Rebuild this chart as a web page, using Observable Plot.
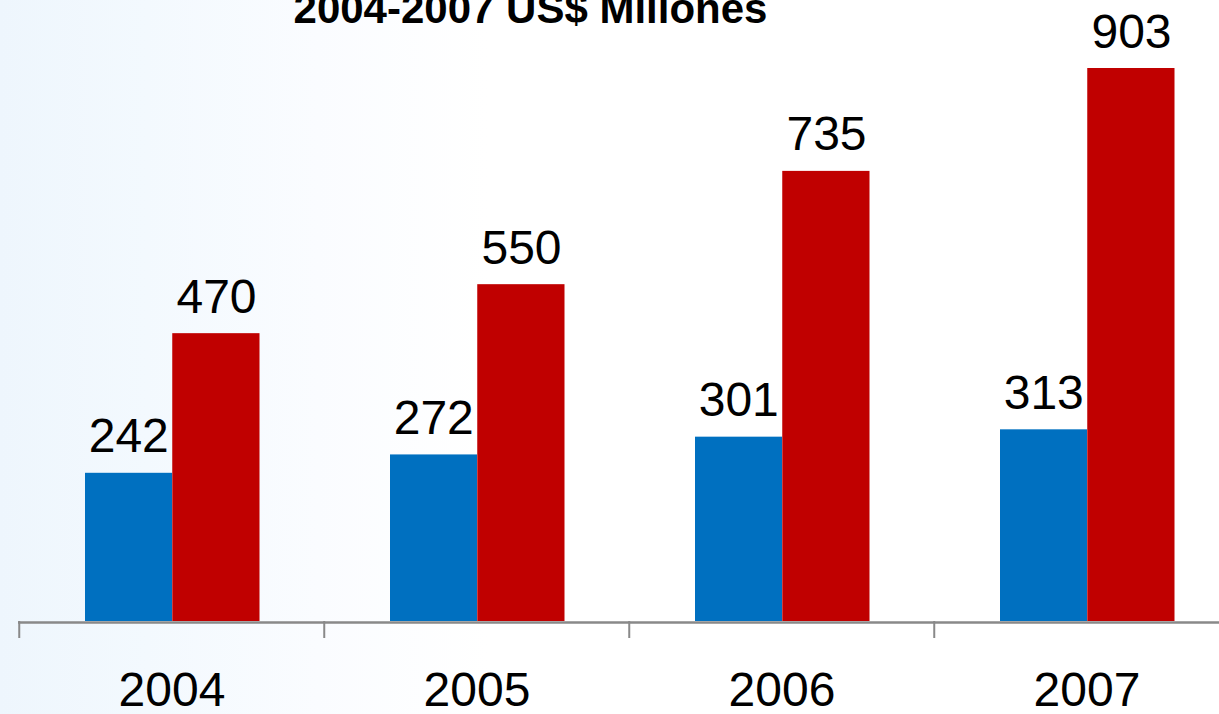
<!DOCTYPE html>
<html><head><meta charset="utf-8">
<script src="https://cdn.jsdelivr.net/npm/d3@7"></script>
<script src="https://cdn.jsdelivr.net/npm/@observablehq/plot@0.6"></script>
<style>
html,body{margin:0;padding:0;width:1219px;height:714px;overflow:hidden;}
body{background:linear-gradient(to right,#eef6fd 0%,#f3f9fe 12%,#fafcff 26%,#ffffff 40%);font-family:"Liberation Sans",Arial,sans-serif;position:relative;}
#title{position:absolute;left:0;width:1061px;text-align:center;top:-12px;font:bold 42px/42px "Liberation Sans",Arial,sans-serif;color:#000;white-space:nowrap;}
#chart{position:absolute;left:0;top:0;}
</style></head><body>
<div id="title">2004-2007 US$ Millones</div>
<div id="chart"></div>
<script>
const years = ["2004", "2005", "2006", "2007"];
const seriesBlue = [242, 272, 301, 313];
const seriesRed = [470, 550, 735, 903];

const blue = years.map((year, i) => ({year, value: seriesBlue[i]}));
const red = years.map((year, i) => ({year, value: seriesRed[i]}));
const bw = (1240 - 18) / years.length;

const plot = Plot.plot({
  width: 1219, height: 714,
  marginLeft: 18, marginRight: 0, marginTop: 68, marginBottom: 93,
  style: {background: "transparent", fontFamily: "'Liberation Sans', Arial, sans-serif", color: "#000"},
  x: {domain: years, range: [18, 1240], padding: 0, label: null},
  y: {domain: [0, 903], axis: null},
  marks: [
    Plot.barY(blue, {x: "year", y: "value", fill: "#0070C0", insetLeft: 66, insetRight: 152}),
    Plot.barY(red, {x: "year", y: "value", fill: "#C00000", insetLeft: 153.25, insetRight: 64.5}),
    Plot.text(blue, {x: "year", y: "value", text: d => String(d.value), dx: -43.25, dy: -21, lineAnchor: "bottom", fontSize: 48, fill: "#000"}),
    Plot.text(red, {x: "year", y: "value", text: d => String(d.value), dx: 44.5, dy: -21, lineAnchor: "bottom", fontSize: 48, fill: "#000"}),
    Plot.ruleY([0], {stroke: "#898989", strokeWidth: 2.5, dy: 1}),
    Plot.axisX({tickSize: 17, tickFormat: () => "", label: null, dx: -bw / 2, stroke: "#898989", strokeWidth: 2}),
    Plot.axisX({tickSize: 0, tickPadding: 50, label: null, fontSize: 48, fill: "#000"})
  ]
});
document.getElementById("chart").appendChild(plot);
</script>
</body></html>
